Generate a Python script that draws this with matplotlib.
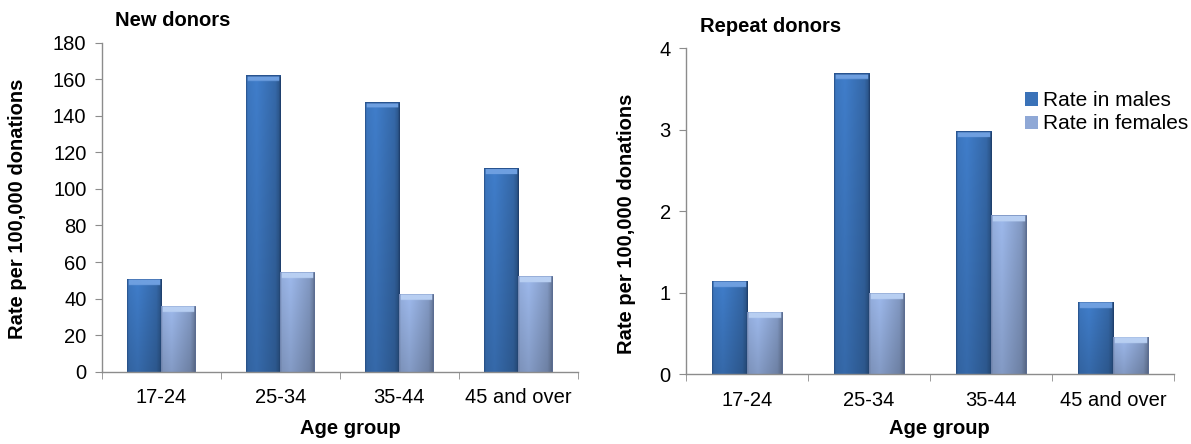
import matplotlib
matplotlib.use('Agg')
import matplotlib.pyplot as plt
import numpy as np
from matplotlib.colors import to_rgb

plt.rcParams['font.family'] = ['Liberation Sans', 'DejaVu Sans']

# data
age_groups = ['17-24', '25-34', '35-44', '45 and over']
new_males = [50.5, 162, 147.5, 111.5]
new_females = [36, 54.5, 42.5, 52.5]
repeat_males = [1.13, 3.69, 2.98, 0.88]
repeat_females = [0.76, 0.99, 1.95, 0.45]

MALE = '#3A72B8'
FEMALE = '#8FA8D6'
AXIS_GREY = '#8C8C8C'
FS = 14.5


def bar_shading(base, dark_edge):
    # horizontal + vertical shading to mimic the bevelled Excel bars
    c = np.array(to_rgb(base))
    d = np.array(to_rgb(dark_edge))
    nx, ny = 60, 200
    xs = np.linspace(0, 1, nx)
    # brighter left third, darker towards the right edge
    hx = np.interp(xs, [0, 0.05, 0.3, 0.85, 0.95, 1.0], [0.85, 1.0, 1.06, 0.88, 0.75, 0.6])
    ys = np.linspace(0, 1, ny)  # 0 = top
    vy = np.interp(ys, [0, 1], [1.04, 0.87])
    img = c[None, None, :] * hx[None, :, None] * vy[:, None, None]
    img[:, -2:, :] = d
    img[:, :1, :] = d * 1.2
    return np.clip(img, 0, 1)


def draw_panel(ax, males, females, ymax, step):
    x = np.arange(len(age_groups))
    w = 0.29
    b1 = ax.bar(x - w / 2, males, w, color=MALE, label='Rate in males', zorder=2)
    b2 = ax.bar(x + w / 2, females, w, color=FEMALE, label='Rate in females', zorder=2)
    ax.set_xlim(-0.5, len(age_groups) - 0.5)
    ax.set_ylim(0, ymax)
    fig.canvas.draw()
    px_per_unit = ax.transData.transform((0, 1))[1] - ax.transData.transform((0, 0))[1]
    for bars, base, edge, cap in [(b1, MALE, '#1F406E', '#6E9FE0'),
                                  (b2, FEMALE, '#5B6D92', '#B8CFF2')]:
        shade = bar_shading(base, edge)
        for r in bars:
            x0, hgt = r.get_x(), r.get_height()
            img = shade.copy()
            cap_frac = min(6.0 / (hgt * px_per_unit), 0.5)
            ncap = max(int(round(cap_frac * img.shape[0])), 1)
            capc = np.array(to_rgb(cap))
            img[:ncap, 3:-3, :] = capc
            img[0, :, :] = np.array(to_rgb(edge)) * 1.3
            ax.imshow(img, extent=(x0, x0 + r.get_width(), 0, hgt), aspect='auto',
                      zorder=2.5, interpolation='bilinear')
    ax.set_xlim(-0.5, len(age_groups) - 0.5)
    ax.set_ylim(0, ymax)
    ax.set_yticks(np.arange(0, ymax + step / 2, step))
    ax.set_xticks(x)
    ax.set_xticklabels(age_groups, fontsize=FS)
    ax.set_xticks(np.arange(-0.5, len(age_groups)), minor=True)
    ax.tick_params(axis='x', which='major', length=0, pad=12)
    ax.tick_params(axis='x', which='minor', length=5, color=AXIS_GREY, direction='out')
    ax.tick_params(axis='y', length=5, color=AXIS_GREY, labelsize=FS, pad=6)
    for s in ['top', 'right']:
        ax.spines[s].set_visible(False)
    for s in ['left', 'bottom']:
        ax.spines[s].set_color(AXIS_GREY)
        ax.spines[s].set_linewidth(1.0)
    return b1, b2


fig = plt.figure(figsize=(11.91, 4.44), dpi=100)
W, H = 1191, 444

ax1 = fig.add_axes([101.7 / W, 1 - 371.7 / H, (578 - 101.7) / W, (371.7 - 42.7) / H])
ax2 = fig.add_axes([686 / W, 1 - 374 / H, (1174 - 686) / W, (374 - 48.3) / H])

draw_panel(ax1, new_males, new_females, 180, 20)
m2, f2 = draw_panel(ax2, repeat_males, repeat_females, 4, 1)

# titles
fig.text(115 / W, 1 - 26 / H, 'New donors', fontsize=FS, fontweight='bold', va='baseline')
fig.text(700 / W, 1 - 32 / H, 'Repeat donors', fontsize=FS, fontweight='bold', va='baseline')

# axis labels
fig.text(17.5 / W, 1 - 209 / H, 'Rate per 100,000 donations', rotation=90,
         fontsize=FS, fontweight='bold', ha='center', va='center')
fig.text(626 / W, 1 - 224 / H, 'Rate per 100,000 donations', rotation=90,
         fontsize=FS, fontweight='bold', ha='center', va='center')
fig.text(350 / W, 1 - 434 / H, 'Age group', fontsize=FS, fontweight='bold',
         ha='center', va='baseline')
fig.text(939 / W, 1 - 434 / H, 'Age group', fontsize=FS, fontweight='bold',
         ha='center', va='baseline')

ax2.legend(handles=[m2, f2], loc='upper left', bbox_to_anchor=(0.695, 0.868),
           frameon=False, fontsize=15, handlelength=0.6, handleheight=0.6,
           handletextpad=0.25, labelspacing=0.2, borderpad=0, borderaxespad=0)

fig.savefig('out.png', dpi=100)
